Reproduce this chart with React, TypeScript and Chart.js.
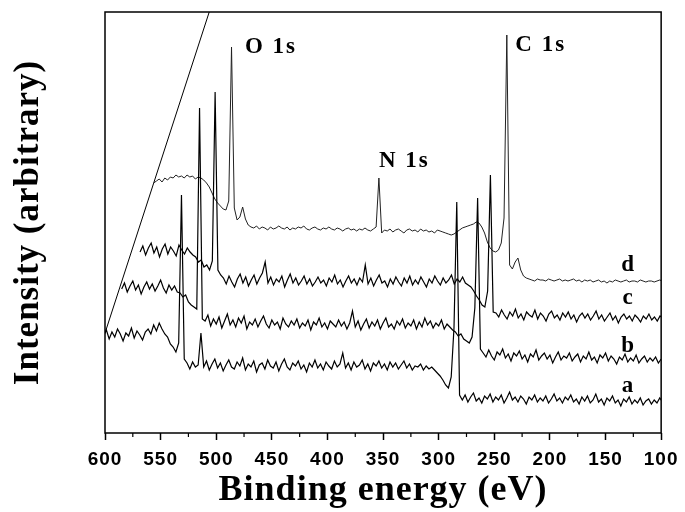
import { useEffect, useRef } from 'react';
import { Chart, registerables } from 'chart.js';

Chart.register(...registerables);

// ---- data ----
const ENERGY_STEP = 2.5; // eV between recorded points
const seriesNames = ['a', 'b', 'c', 'd'];
// displayed start energy of each (offset) spectrum
const seriesStartEV = [601.25, 585, 568.5, 556.25];

const intensityA = [
  97, 103, 94, 101, 96, 104, 99, 92, 100, 97, 105, 95, 102, 98, 93, 101, 104, 99,
  108, 102, 110, 104, 99,
  96, 89, 86, 81, 90,
  238,
  74,
  70, 64, 71, 66, 68,
  100,
  66, 72, 63, 69, 74, 65, 70, 62, 68, 73,
  66, 64, 71, 67, 75, 63, 69, 66, 72, 61,
  68, 70, 64, 73, 67, 65, 71, 62, 69, 74,
  66, 63, 70, 67, 72, 64, 68, 61, 70, 66,
  73, 65, 69, 63, 71, 67, 64, 72, 66, 69,
  80, 65, 70, 63, 71, 66, 68, 73, 64, 69,
  62, 70, 67, 72, 65, 69, 63, 71, 66, 70,
  64, 68, 72, 65, 69, 63, 67,
  66, 69, 63, 67, 64, 66,
  63, 60, 57, 53, 48, 45, 56, 105, 231, 38,
  33, 38, 31, 36, 40, 32, 35, 30, 37, 34,
  39, 31, 36, 33, 38, 30, 35, 41, 33, 36,
  31, 37, 34, 29, 36, 33, 38, 31, 35, 32,
  37, 30, 34, 39, 32, 35, 30, 36, 33, 38,
  31, 34, 29, 36, 32, 37, 30, 33, 39, 31,
  34, 28, 35, 32, 37, 30, 33, 27, 34, 31,
  36, 29, 33, 30, 35, 28, 32, 34, 29, 33,
  30, 35, 31,
];

const intensityB = [
  144, 150, 141, 147, 152, 143, 148, 139, 146, 151, 144, 149, 142, 147, 153, 145, 140, 148, 143, 147, 141,
  140, 136, 138, 131, 128, 126, 124,
  325,
  114,
  112, 118, 107, 114, 109, 116, 105, 112, 119, 108,
  113, 106, 115, 110, 117, 104, 111, 108, 114, 106,
  112, 117, 109, 105, 113, 108, 111, 104, 115, 109,
  106, 112, 108, 114, 105, 110, 107, 113, 103, 111,
  108, 115, 106, 110, 104, 112, 109, 106, 113, 107,
  111, 104, 110, 122, 106, 112, 103, 109, 114, 105,
  111, 107, 113, 104, 110, 115, 106, 109, 104, 112,
  108, 114, 105, 110, 107, 113, 104, 111, 106, 115,
  108, 112, 105, 110, 107, 113, 104, 109, 106,
  103, 101, 97, 99, 94, 92, 90, 96, 125, 235, 84,
  80, 76, 83, 77, 73, 81, 78, 84, 75, 79,
  72, 80, 77, 82, 74, 78, 71, 79, 76, 83,
  73, 77, 80, 74, 78, 70, 76, 81, 73, 77,
  75, 80, 72, 76, 79, 71, 77, 74, 81, 73,
  76, 70, 78, 75, 80, 72, 77, 74, 69, 76,
  73, 79, 71, 75, 72, 78, 70, 74, 77, 71,
  75, 72, 76, 70, 74,
];

const intensityC = [
  181, 187, 178, 185, 190, 180, 186, 176, 184, 189, 179, 186, 182, 177, 188, 183, 179, 185, 181, 178,
  176, 171, 173, 166, 168, 163, 172, 341, 163, 158,
  155, 149, 157, 151, 146, 154, 159, 150, 156, 147,
  153, 158, 149, 155, 160, 171, 150, 156, 148, 154,
  151, 157, 146, 153, 159, 150, 155, 148, 152, 157,
  149, 154, 147, 151, 156, 150, 153, 147, 155, 151,
  158, 149, 153, 146, 152, 157, 150, 154, 148, 155,
  151, 168, 149, 155, 147, 153, 158, 150, 152, 146,
  154, 149, 156, 151, 147, 155, 150, 157, 148, 153,
  149, 156, 151, 146, 154, 150, 157, 152, 148, 155,
  150, 153, 158, 149, 154, 151, 156, 150, 148,
  146, 142, 137, 133, 128, 126, 142, 258, 121,
  120, 116, 123, 118, 114, 121, 117, 124, 115, 119,
  113, 121, 118, 116, 123, 114, 120, 117, 112, 119,
  122, 115, 118, 113, 120, 116, 121, 114, 118, 111,
  117, 120, 115, 119, 113, 117, 122, 114, 118, 112,
  116, 120, 113, 117, 110, 116, 119, 114, 117, 112,
  118, 115, 111, 117, 114, 119, 113, 116, 112, 117,
  115,
];

const intensityD = [
  250,
  252, 254, 251, 255, 253, 256, 255, 258, 256, 257, 255, 258, 256, 257, 254, 256, 255, 253,
  250, 246, 240, 234, 230, 227, 224, 223, 232, 386, 225, 213, 216, 226, 214, 208,
  206, 205, 207, 204, 206, 205, 203, 206, 204, 205,
  207, 205, 204, 206, 203, 205, 204, 206, 205, 207,
  204, 203, 205, 206, 204, 203, 205, 204, 206, 204,
  203, 205, 204, 202, 204, 205, 203, 204, 202, 204,
  203, 205, 203, 202, 204,
  206, 255, 200, 203,
  202, 204, 201, 203, 204, 202, 200, 203, 204, 202, 203, 201, 204, 202, 203, 201, 202, 200, 203,
  202, 201, 200, 199, 198, 199, 201, 203, 205, 206, 207, 208, 209, 211, 210, 206, 200, 191, 185, 182, 181, 183, 190, 215, 398,
  168, 164, 171, 175, 163, 157, 155,
  154, 153, 152, 154, 153, 153, 152, 154, 153, 152,
  153, 154, 152, 153, 152, 153, 154, 152, 153, 151,
  153, 152, 153, 151, 152, 153, 151, 152, 150, 152,
  151, 153, 152, 151, 152, 153, 151, 152, 152, 151,
  153, 152, 151, 152, 152, 151, 152, 153, 152,
];

const seriesIntensities = [intensityA, intensityB, intensityC, intensityD];

// perspective edge line
const edgeLineEV = [600, 506.3];
const edgeLineLevel = [100, 421];

// axis
const xMinEV = 100;
const xMaxEV = 600;
const xMajorStep = 50;
const minorTickEV = [575, 525, 475, 425, 375, 325, 275, 225, 175, 125];
const yMinLevel = 0;
const yMaxLevel = 421;

// annotations
const peakLabels = ['O 1s', 'N 1s', 'C 1s'];
const peakLabelEV = [450.8, 330.9, 208.3];
const peakLabelLevel = [386, 272, 388];
const seriesLabelEV = [129.3, 129.3, 129.3, 129.3];
const seriesLabelLevel = [47, 87, 135, 168];

const xTitle = 'Binding energy (eV)';
const yTitle = 'Intensity (arbitrary)';

function buildPoints(start: number, values: number[]) {
  return values.map((v, i) => ({ x: start - ENERGY_STEP * i, y: v }));
}

const spacingPlugin = {
  id: 'letterSpacing',
  beforeDraw(chart: any) {
    chart.ctx.letterSpacing = '1px';
  },
  afterDraw(chart: any) {
    chart.ctx.letterSpacing = '0px';
  },
};

const decorPlugin = {
  id: 'decor',
  afterDraw(chart: any) {
    const { ctx, chartArea, scales } = chart;
    ctx.save();
    ctx.strokeStyle = '#000';
    ctx.lineWidth = 1.5;
    ctx.strokeRect(chartArea.left, chartArea.top, chartArea.right - chartArea.left, chartArea.bottom - chartArea.top);
    ctx.lineWidth = 1.2;
    minorTickEV.forEach((ev) => {
      const x = scales.x.getPixelForValue(ev);
      ctx.beginPath();
      ctx.moveTo(x, chartArea.bottom);
      ctx.lineTo(x, chartArea.bottom + 4);
      ctx.stroke();
    });
    ctx.fillStyle = '#000';
    ctx.letterSpacing = '2px';
    ctx.font = 'bold 23px "Liberation Serif"';
    ctx.textAlign = 'center';
    ctx.textBaseline = 'middle';
    peakLabels.forEach((t, i) => {
      ctx.fillText(t, scales.x.getPixelForValue(peakLabelEV[i]), scales.y.getPixelForValue(peakLabelLevel[i]));
    });
    seriesNames.forEach((t, i) => {
      ctx.fillText(t, scales.x.getPixelForValue(seriesLabelEV[i]), scales.y.getPixelForValue(seriesLabelLevel[i]));
    });
    ctx.restore();
  },
};

export default function App() {
  const canvasRef = useRef<HTMLCanvasElement | null>(null);

  useEffect(() => {
    document.body.style.margin = '0';
    const canvas = canvasRef.current;
    if (!canvas) return;

    const datasets: any[] = seriesNames.map((name, k) => ({
      label: name,
      data: buildPoints(seriesStartEV[k], seriesIntensities[k]),
      borderColor: k === 3 ? '#222' : '#000',
      borderWidth: k === 3 ? 1 : 1.2,
      pointRadius: 0,
      tension: 0,
      fill: false,
    }));
    datasets.push({
      label: 'edge',
      data: edgeLineEV.map((x, i) => ({ x, y: edgeLineLevel[i] })),
      borderColor: '#000',
      borderWidth: 1,
      pointRadius: 0,
      tension: 0,
      fill: false,
    });

    const chart = new Chart(canvas, {
      type: 'line',
      data: { datasets },
      options: {
        animation: false,
        responsive: false,
        events: [],
        layout: { padding: { top: 12, right: 17, left: 0, bottom: 0 } },
        plugins: {
          legend: { display: false },
          tooltip: { enabled: false },
        },
        scales: {
          x: {
            type: 'linear',
            reverse: true,
            min: xMinEV,
            max: xMaxEV,
            afterFit: (scale: any) => {
              scale.height = 79;
            },
            border: { display: false },
            grid: {
              display: true,
              drawOnChartArea: false,
              drawTicks: true,
              tickLength: 7,
              color: '#000',
              tickColor: '#000',
              tickWidth: 1.5,
            },
            ticks: {
              stepSize: xMajorStep,
              color: '#000',
              padding: 8,
              maxRotation: 0,
              autoSkip: false,
              font: { family: '"Liberation Sans", Arial, sans-serif', size: 19, weight: 'bold' },
            },
            title: {
              display: true,
              text: xTitle,
              color: '#000',
              padding: { top: 0, bottom: 0 },
              font: { family: '"Liberation Serif", "Times New Roman", serif', size: 36, weight: 'bold' },
            },
          },
          y: {
            type: 'linear',
            min: yMinLevel,
            max: yMaxLevel,
            afterFit: (scale: any) => {
              scale.width = 105;
            },
            border: { display: false },
            grid: { display: false },
            ticks: { display: false },
            title: {
              display: true,
              text: yTitle,
              color: '#000',
              padding: { top: 8, bottom: 0 },
              font: { family: '"Liberation Serif", "Times New Roman", serif', size: 35, weight: 'bold' },
            },
          },
        },
      },
      plugins: [spacingPlugin, decorPlugin],
    } as any);

    return () => chart.destroy();
  }, []);

  return (
    <div style={{ width: 685, height: 512 }}>
      <canvas ref={canvasRef} width={685} height={512} style={{ display: 'block' }} />
    </div>
  );
}
